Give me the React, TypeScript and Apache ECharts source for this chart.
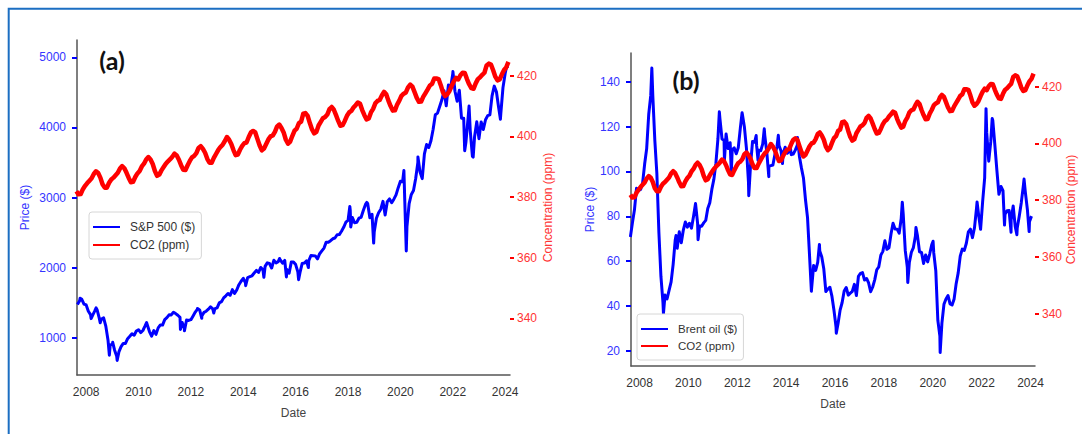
import { useEffect, useRef } from "react";
import * as echarts from "echarts";

// S&P 500 month-end closes, Aug 2007 – Jan 2024
const SP500_START: [number, number] = [2007, 8];
const SP500_MONTHLY = [
  1474, 1527, 1549, 1481, 1468,
  1379, 1331, 1323, 1386, 1400, 1280, 1267, 1283, 1166, 969, 896, 903,
  826, 735, 798, 873, 919, 919, 987, 1021, 1057, 1036, 1096, 1115,
  1074, 1104, 1169, 1187, 1089, 1031, 1102, 1049, 1141, 1183, 1181, 1258,
  1286, 1327, 1326, 1364, 1345, 1321, 1292, 1219, 1131, 1253, 1247, 1258,
  1312, 1366, 1408, 1398, 1310, 1362, 1379, 1407, 1441, 1412, 1416, 1426,
  1498, 1515, 1569, 1598, 1631, 1606, 1686, 1633, 1682, 1757, 1806, 1848,
  1783, 1859, 1872, 1884, 1924, 1960, 1931, 2003, 1972, 2018, 2068, 2059,
  1995, 2105, 2068, 2086, 2107, 2063, 2104, 1972, 1920, 2079, 2080, 2044,
  1940, 1932, 2060, 2065, 2097, 2099, 2174, 2171, 2168, 2126, 2199, 2239,
  2279, 2364, 2363, 2384, 2412, 2423, 2470, 2472, 2519, 2575, 2648, 2674,
  2824, 2714, 2641, 2648, 2705, 2718, 2816, 2902, 2914, 2712, 2760, 2507,
  2704, 2784, 2834, 2946, 2752, 2942, 2980, 2926, 2977, 3038, 3141, 3231,
  3226, 2954, 2585, 2912, 3044, 3100, 3271, 3500, 3363, 3270, 3622, 3756,
  3714, 3811, 3973, 4181, 4204, 4298, 4395, 4523, 4308, 4605, 4567, 4766,
  4516, 4374, 4530, 4132, 4132, 3785, 4130, 3955, 3586, 3872, 4080, 3840,
  4077, 3970, 4109, 4169, 4180, 4450, 4589, 4508, 4288, 4194, 4568, 4770,
  4846,
];
// Intra-month highs and lows of the index
const SP500_EXTREMES: [string, number][] = [
  ["2007-10-09", 1565], ["2008-03-10", 1273], ["2008-05-19", 1426],
  ["2008-07-15", 1214], ["2008-11-20", 752], ["2009-01-06", 935],
  ["2009-03-09", 677], ["2010-04-23", 1217], ["2010-07-02", 1023],
  ["2011-08-08", 1119], ["2011-10-03", 1099], ["2012-04-02", 1419],
  ["2012-06-01", 1278], ["2012-11-15", 1353], ["2014-02-03", 1742],
  ["2014-10-15", 1862], ["2015-05-21", 2131], ["2015-08-25", 1868],
  ["2016-02-11", 1829], ["2016-06-27", 2001], ["2018-01-26", 2873],
  ["2018-02-08", 2581], ["2018-09-20", 2931], ["2018-12-24", 2351],
  ["2019-06-03", 2744], ["2020-02-19", 3386], ["2020-03-23", 2237],
  ["2020-09-02", 3580], ["2022-01-03", 4797], ["2022-06-16", 3667],
  ["2022-08-16", 4305], ["2022-10-12", 3577], ["2023-10-27", 4117],
  ["2024-01-26", 4891],
];

// Brent crude monthly means, Aug 2007 – Jan 2024
const BRENT_START: [number, number] = [2007, 8];
const BRENT_MONTHLY = [
  70.8, 77.1, 82.9, 92.5, 91.5,
  92.0, 94.8, 103.3, 110.2, 125.4, 133.9, 133.9, 113.9, 99.1, 72.8, 53.2, 41.6,
  44.9, 43.2, 47.0, 50.8, 58.6, 69.3, 65.8, 73.1, 68.2, 73.9, 77.5, 75.2,
  76.9, 74.7, 79.9, 85.7, 77.0, 75.7, 75.6, 77.1, 78.2, 83.5, 86.1, 92.0,
  96.5, 103.7, 114.6, 123.3, 114.5, 113.9, 116.7, 110.2, 112.8, 109.6, 110.5, 107.9,
  110.7, 119.3, 125.5, 119.8, 110.3, 95.2, 102.6, 113.4, 113.0, 111.5, 109.5, 109.2,
  112.3, 116.1, 108.5, 102.3, 102.6, 102.9, 107.7, 111.0, 111.6, 109.1, 107.8, 110.8,
  108.1, 108.9, 107.5, 107.8, 109.5, 111.8, 106.8, 101.6, 97.1, 87.4, 79.4, 62.3,
  47.8, 58.1, 55.9, 59.5, 64.6, 61.9, 56.5, 46.5, 47.6, 48.4, 44.3, 38.0,
  30.7, 32.2, 38.2, 41.6, 46.7, 48.3, 44.9, 45.8, 46.6, 49.7, 44.7, 53.3,
  54.6, 54.9, 51.6, 52.3, 50.3, 46.4, 48.5, 51.7, 56.2, 57.5, 62.7, 64.4,
  69.1, 65.3, 66.0, 72.1, 76.9, 74.4, 74.3, 72.5, 78.9, 81.0, 64.8, 57.4,
  59.4, 64.0, 66.1, 71.2, 71.3, 64.2, 63.9, 59.0, 62.8, 59.7, 63.2, 67.3,
  63.7, 55.7, 33.7, 26.6, 32.4, 40.8, 43.2, 44.7, 41.0, 40.5, 43.2, 50.0,
  54.8, 62.3, 65.4, 64.8, 68.0, 73.1, 74.3, 70.5, 74.9, 83.7, 80.8, 74.2,
  86.5, 97.1, 117.3, 104.6, 113.3, 122.7, 111.9, 100.5, 89.8, 93.3, 91.4, 80.9,
  82.5, 82.6, 78.4, 84.6, 75.5, 74.8, 80.1, 86.2, 93.7, 90.6, 82.9, 77.6,
  80.1,
];
const BRENT_EXTREMES: [string, number][] = [
  ["2008-07-03", 146.1], ["2008-12-24", 36.6], ["2009-06-30", 71.5],
  ["2010-05-25", 69.6], ["2011-04-08", 126.6], ["2011-06-23", 105.1],
  ["2011-10-04", 99.8], ["2012-03-13", 126.2], ["2012-06-21", 89.2],
  ["2012-10-10", 116.0], ["2012-11-07", 105.0], ["2013-02-08", 119.0],
  ["2013-04-17", 97.7], ["2013-09-06", 116.1], ["2013-11-07", 103.5],
  ["2014-03-03", 111.2], ["2014-06-19", 115.1], ["2015-01-13", 46.6],
  ["2015-05-13", 67.5], ["2016-01-20", 27.9], ["2018-10-03", 86.3],
  ["2018-12-24", 50.5], ["2019-04-25", 75.0], ["2020-01-06", 68.9],
  ["2020-04-21", 19.3], ["2021-10-25", 86.4], ["2022-03-08", 128.0],
  ["2022-06-08", 123.6], ["2022-12-09", 76.1], ["2023-03-17", 72.9],
  ["2023-06-12", 71.8], ["2023-09-27", 96.6], ["2023-12-12", 73.2],
];

// Atmospheric CO2 monthly means (ppm), Aug 2007 – Feb 2024
const CO2_START: [number, number] = [2007, 8];
const CO2_MONTHLY = [
  381.9, 380.9, 381.0, 382.6, 383.7,
  384.6, 385.4, 386.2, 387.6, 388.5, 387.9, 386.4, 384.2, 383.1, 383.1, 384.7, 385.8,
  386.4, 387.2, 388.0, 389.4, 390.2, 389.5, 388.0, 386.3, 384.9, 385.0, 386.6, 387.8,
  388.6, 390.1, 391.0, 392.4, 393.2, 392.4, 390.9, 388.6, 387.0, 387.4, 388.8, 389.9,
  391.0, 391.8, 392.5, 393.3, 394.3, 393.7, 392.3, 390.5, 389.0, 388.9, 390.5, 391.9,
  393.1, 393.6, 394.5, 396.2, 396.8, 395.9, 394.6, 392.6, 391.3, 391.3, 392.9, 394.2,
  395.5, 396.5, 397.2, 398.4, 399.8, 398.9, 397.5, 395.5, 393.8, 394.0, 395.6, 396.9,
  397.8, 398.0, 399.8, 401.3, 401.8, 401.3, 399.1, 397.0, 395.4, 396.0, 397.5, 399.0,
  400.0, 400.3, 401.5, 403.3, 403.9, 402.8, 401.3, 398.9, 397.6, 398.3, 400.2, 401.9,
  402.6, 404.4, 404.9, 407.5, 407.7, 406.8, 404.4, 402.3, 401.0, 401.5, 403.6, 404.8,
  406.0, 406.4, 407.2, 409.0, 409.7, 408.8, 407.0, 405.1, 403.5, 403.7, 405.1, 406.8,
  407.9, 408.4, 409.5, 410.3, 411.2, 410.8, 408.7, 407.0, 405.6, 405.9, 407.9, 409.1,
  410.9, 411.7, 412.0, 413.5, 414.7, 413.9, 411.8, 410.0, 408.5, 408.6, 410.5, 411.8,
  413.4, 414.1, 414.5, 416.2, 417.1, 416.4, 414.6, 412.7, 411.4, 411.5, 413.1, 414.3,
  415.5, 416.8, 417.3, 419.1, 419.1, 418.9, 416.9, 414.5, 413.3, 413.9, 415.0, 416.7,
  418.2, 419.3, 418.8, 420.2, 421.0, 420.9, 418.9, 417.2, 415.9, 415.7, 417.5, 418.9,
  419.5, 420.3, 421.0, 423.4, 424.0, 423.7, 421.8, 419.7, 418.5, 418.8, 420.5, 421.9,
  422.8, 424.6,
];

// Tick labels
const YEAR_TICKS = [2008, 2010, 2012, 2014, 2016, 2018, 2020, 2022, 2024];
const SP500_TICKS = [1000, 2000, 3000, 4000, 5000];
const BRENT_TICKS = [20, 40, 60, 80, 100, 120, 140];
const CO2_TICKS = [340, 360, 380, 400, 420];

const X_MIN = 2007.65;
const X_MAX = 2024.185;

const toYear = (iso: string) => {
  const [y, m, d] = iso.split("-").map(Number);
  const a = Date.UTC(y, 0, 1);
  const b = Date.UTC(y + 1, 0, 1);
  return y + (Date.UTC(y, m - 1, d) - a) / (b - a);
};

// offset: 1 places a value at month end, 0.5 at mid-month
const monthly = (start: [number, number], values: number[], offset: number) =>
  values.map((v, i) => [start[0] + (start[1] - 1 + i + offset) / 12, v]);

const merge = (base: number[][], extra: [string, number][]) =>
  [...base, ...extra.map(([d, v]) => [toYear(d), v])].sort((p, q) => p[0] - q[0]);

const FONT = "'Liberation Sans', Arial, sans-serif";
const BLUE = "#0000ff";
const RED = "#ff0000";
const BLUE_TEXT = "#3434ff";
const RED_TEXT = "#ff3434";
const SPINE = "#555555";
const plain = (v: number) => String(Math.round(v));

function xAxisFor(gridIndex: number) {
  return {
    type: "value",
    gridIndex,
    min: X_MIN,
    max: X_MAX,
    name: "Date",
    nameLocation: "middle",
    nameGap: 32,
    nameMoveOverlap: false,
    nameTextStyle: { color: "#444", fontSize: 12, fontFamily: FONT },
    axisLine: { show: true, lineStyle: { color: SPINE, width: 1.5 } },
    axisTick: { show: false },
    splitLine: { show: false },
    axisLabel: {
      customValues: YEAR_TICKS,
      formatter: plain,
      color: "#333",
      fontSize: 12,
      fontFamily: FONT,
      margin: 11,
    },
  };
}

function priceAxis(gridIndex: number, min: number, max: number, ticks: number[], gap: number) {
  return {
    type: "value",
    gridIndex,
    position: "left",
    min,
    max,
    name: "Price ($)",
    nameLocation: "middle",
    nameRotate: 90,
    nameGap: gap,
    nameMoveOverlap: false,
    nameTextStyle: { color: BLUE_TEXT, fontSize: 12, fontFamily: FONT },
    axisLine: { show: true, lineStyle: { color: SPINE, width: 1.5 } },
    axisTick: { show: true, customValues: ticks, length: 5, lineStyle: { color: BLUE, width: 2 } },
    splitLine: { show: false },
    axisLabel: {
      customValues: ticks,
      formatter: plain,
      color: BLUE_TEXT,
      fontSize: 12,
      fontFamily: FONT,
      margin: 11,
    },
  };
}

function co2Axis(gridIndex: number, min: number, max: number, gap: number) {
  return {
    type: "value",
    gridIndex,
    position: "right",
    min,
    max,
    name: "Concentration (ppm)",
    nameLocation: "middle",
    nameRotate: 90,
    nameGap: gap,
    nameMoveOverlap: false,
    nameTextStyle: { color: RED_TEXT, fontSize: 12, fontFamily: FONT },
    axisLine: { show: false },
    axisTick: { show: true, customValues: CO2_TICKS, length: 4, lineStyle: { color: RED, width: 2 } },
    splitLine: { show: false },
    axisLabel: {
      customValues: CO2_TICKS,
      formatter: plain,
      color: RED_TEXT,
      fontSize: 12,
      fontFamily: FONT,
      margin: 7,
    },
  };
}

function lineSeries(name: string, data: number[][], gridIdx: number, yIdx: number, color: string, width: number, z: number) {
  return {
    type: "line",
    name,
    data,
    xAxisIndex: gridIdx,
    yAxisIndex: yIdx,
    showSymbol: false,
    symbol: "none",
    clip: true,
    z,
    lineStyle: { color, width, join: "round" },
    itemStyle: { color },
  };
}

function legendFor(left: number, top: number, names: string[], size: number, gap: number) {
  return {
    orient: "vertical",
    left,
    top,
    data: names.map((name) => ({ name, icon: "rect" })),
    selectedMode: false,
    itemWidth: 27,
    itemHeight: 2,
    itemGap: gap,
    padding: [9, 6, 8, 4],
    backgroundColor: "#ffffff",
    borderColor: "#d6d6d6",
    borderWidth: 1,
    borderRadius: 3,
    textStyle: { color: "#333", fontSize: size, fontFamily: FONT, padding: [0, 0, 0, 5] },
  };
}

export default function App() {
  const ref = useRef<HTMLDivElement>(null);

  useEffect(() => {
    if (!ref.current) return;
    const chart = echarts.init(ref.current, null, { renderer: "svg" });

    const sp500 = merge(monthly(SP500_START, SP500_MONTHLY, 1), SP500_EXTREMES);
    const brent = merge(monthly(BRENT_START, BRENT_MONTHLY, 0.5), BRENT_EXTREMES);
    const co2 = monthly(CO2_START, CO2_MONTHLY, 0.5);

    chart.setOption({
      animation: false,
      backgroundColor: "#ffffff",
      grid: [
        { left: 77, top: 40, width: 433, height: 335, outerBoundsMode: "none" },
        { left: 631, top: 53, width: 404, height: 313, outerBoundsMode: "none" },
      ],
      xAxis: [xAxisFor(0), xAxisFor(1)],
      yAxis: [
        priceAxis(0, 469, 5247, SP500_TICKS, 46),
        co2Axis(0, 321.3, 431.8, 32),
        priceAxis(1, 13.3, 152.8, BRENT_TICKS, 35),
        co2Axis(1, 321.5, 431.9, 30),
      ],
      legend: [
        legendFor(89, 212, ["S&P 500 ($)", "CO2 (ppm)"], 12, 6),
        legendFor(637, 314, ["Brent oil ($)", "CO2 (ppm)"], 11.5, 5),
      ],
      series: [
        lineSeries("S&P 500 ($)", sp500, 0, 0, BLUE, 3, 2),
        lineSeries("CO2 (ppm)", co2, 0, 1, RED, 4.5, 3),
        lineSeries("Brent oil ($)", brent, 1, 2, BLUE, 3, 2),
        lineSeries("CO2 (ppm)", co2, 1, 3, RED, 4.5, 3),
      ],
      graphic: [
        {
          type: "rect",
          silent: true,
          shape: { x: 8.7, y: 8.7, width: 1300, height: 700 },
          style: { fill: "none", stroke: "#1b6ec2", lineWidth: 2 },
        },
        {
          type: "text",
          x: 112,
          y: 60,
          style: {
            text: "(a)",
            fill: "#111",
            font: "bold 25px Lato, 'Open Sans', sans-serif",
            align: "center",
            verticalAlign: "middle",
          },
        },
        {
          type: "text",
          x: 686,
          y: 80,
          style: {
            text: "(b)",
            fill: "#111",
            font: "bold 25px Lato, 'Open Sans', sans-serif",
            align: "center",
            verticalAlign: "middle",
          },
        },
      ],
    });

    return () => chart.dispose();
  }, []);

  return (
    <div
      ref={ref}
      style={{ position: "fixed", left: 0, top: 0, width: 1082, height: 434, background: "#fff" }}
    />
  );
}
